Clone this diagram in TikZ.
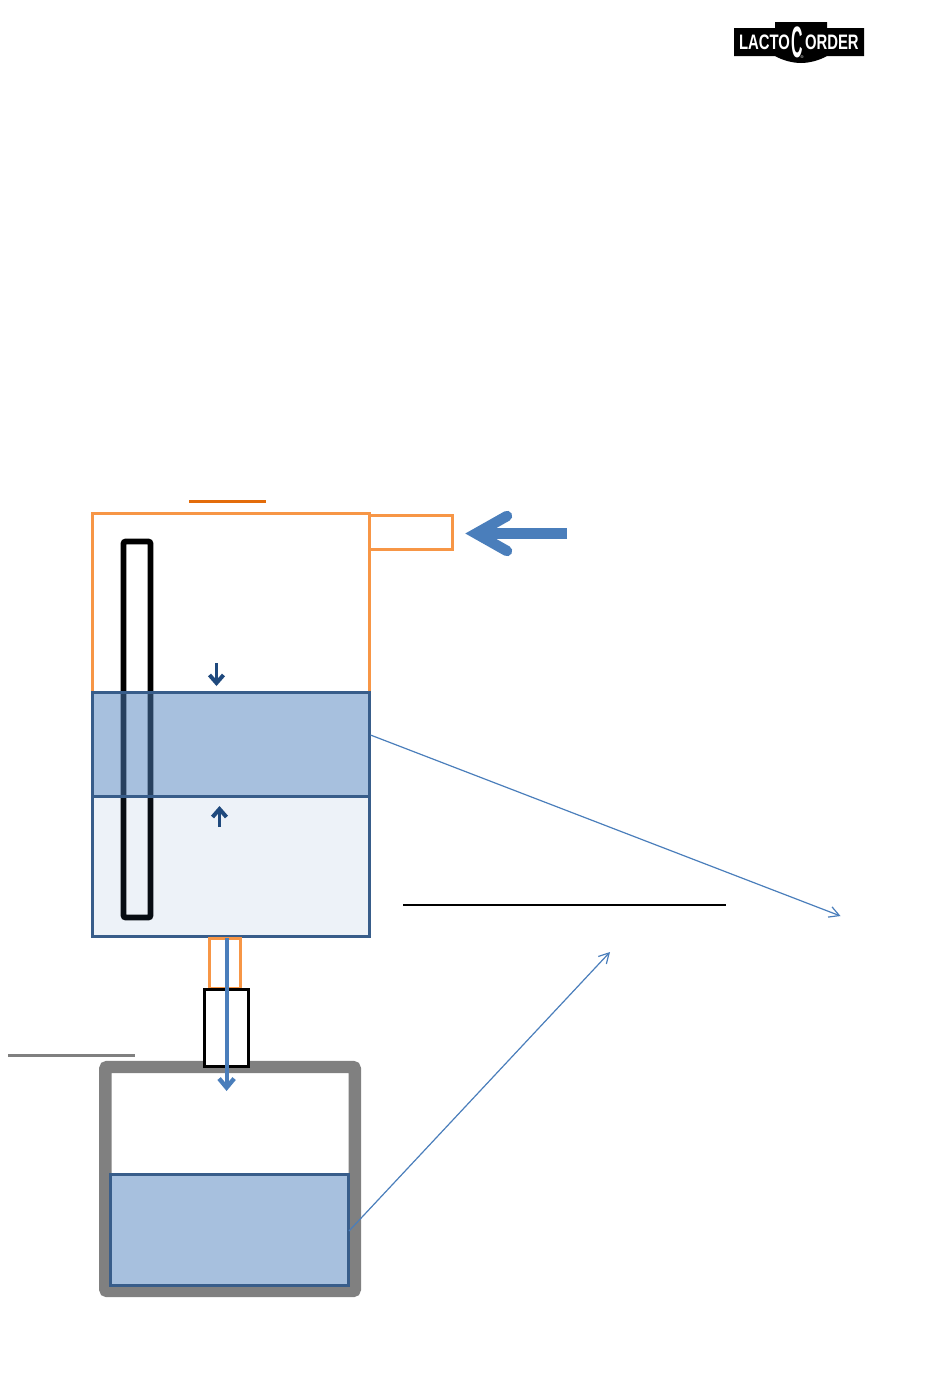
\documentclass[tikz,border=0pt]{standalone}
\usepackage{fontspec}
\setmainfont{Liberation Sans}
\usetikzlibrary{arrows.meta}
\def\U{0.75pt}
\definecolor{orangeline}{HTML}{F79646}
\definecolor{orangedark}{HTML}{E36C0A}
\definecolor{blueline}{HTML}{385D8A}
\definecolor{bluemain}{HTML}{4A7EBB}
\definecolor{bluefill}{HTML}{4F81BD}
\definecolor{navy}{HTML}{1F497D}
\definecolor{liquid}{HTML}{A7C0DE}
\definecolor{wall}{HTML}{808080}
\tikzset{
  x=0.75pt,y=-0.75pt,
  shapebox/.style={rectangle,inner sep=0pt,outer sep=0pt,anchor=north west},
  orangebox/.style={shapebox,draw=orangeline,line width=3*\U},
  liquidbox/.style={shapebox,draw=blueline,line width=3.2*\U,fill=bluefill},
  tube/.style={shapebox,draw=black,line width=5.6*\U,rounded corners=1.5pt},
  plainrule/.style={line width=2.8*\U},
  leader/.style={draw=bluemain,line width=1.2*\U,-{Straight Barb[length=10*\U,width=11*\U]}},
  levelarrow/.style={draw=navy,line width=3*\U,-{Straight Barb[length=8*\U,width=14*\U,line width=4*\U]}},
  logotext/.style={inner sep=0pt,outer sep=0pt,text=white,font=\bfseries\fontsize{15.7pt}{16pt}\selectfont,xscale=0.71},
}
\begin{document}
\begin{tikzpicture}
\useasboundingbox (0,0) rectangle (950,1379);
% logo
\fill[black] (734,28) -- (775,28) -- (775,22) -- (827,22) -- (827,28) -- (864,28) -- (864,56) -- (827,56)
  .. controls (820,60) and (810,63) .. (801,63) .. controls (792,63) and (782,60) .. (775,56) -- (734,56) -- cycle;
\node[logotext,anchor=east] (logoa) at (790,42) {LACTO};
\node[inner sep=0pt,outer sep=0pt,text=white,font=\bfseries\fontsize{33pt}{34pt}\selectfont,xscale=0.36] (logob) at (797.5,42) {C};
\node[logotext,anchor=west] (logoc) at (805,42) {ORDER};
\node[inner sep=0pt,text=white,font=\fontsize{3pt}{3pt}\selectfont] (logod) at (802,57) {®};
% rules
\coordinate (ra) at (189,501.5); \coordinate (rb) at (266,501.5);
\draw[plainrule,draw=orangedark,line width=3*\U] (ra) -- (rb);
\coordinate (rc) at (403,905); \coordinate (rd) at (726,905);
\draw[plainrule,black] (rc) -- (rd);
\coordinate (re) at (8,1055); \coordinate (rf) at (135,1055);
\draw[plainrule,draw=wall,line width=3*\U] (re) -- (rf);
% upper vessel
\node[orangebox,minimum width=277*\U,minimum height=423*\U] (vessel) at (92.5,513.5) {};
\node[orangebox,minimum width=82.5*\U,minimum height=34*\U] (inlet) at (369.5,515.5) {};
\node[tube,minimum width=27*\U,minimum height=376*\U] (probe) at (123.5,541.5) {};
\node[liquidbox,fill opacity=0.5,minimum width=277*\U,minimum height=104*\U] (milk) at (92.5,692.5) {};
\node[liquidbox,fill opacity=0.1,minimum width=277*\U,minimum height=140*\U] (base) at (92.5,796.5) {};
% inlet arrow
\coordinate (ia) at (567,533.5); \coordinate (ib) at (482,533.5);
\draw[draw=bluemain,line width=10.5*\U] (ia) -- (ib);
\draw[draw=bluemain,line width=10.5*\U,line cap=round,miter limit=10] (507,516) -- (476,533.5) -- (507,551);
% level arrows
\coordinate (la) at (216.5,663); \coordinate (lb) at (216.5,686);
\draw[levelarrow] (la) -- (lb);
\coordinate (lc) at (219.5,827); \coordinate (ld) at (219.5,806);
\draw[levelarrow] (lc) -- (ld);
% outlet
\node[orangebox,minimum width=31*\U,minimum height=50*\U] (pipe) at (209.5,938) {};
% receiver
\node[shapebox,draw=wall,line width=12.4*\U,rounded corners=1.5pt,minimum width=249.5*\U,minimum height=224*\U] (jar) at (105.3,1067) {};
\node[shapebox,draw=black,fill=white,line width=3*\U,minimum width=44.5*\U,minimum height=77*\U] (valve) at (204.3,989.3) {};
\node[shapebox,draw=blueline,fill=liquid,line width=3*\U,minimum width=238.5*\U,minimum height=111*\U] (sample) at (110.3,1174.3) {};
\coordinate (oa) at (226.6,938); \coordinate (ob) at (226.6,1091);
\draw[draw=bluemain,line width=3.8*\U,-{Straight Barb[length=9*\U,width=15*\U,line width=4.4*\U]}] (oa) -- (ob);
% leaders
\coordinate (sa) at (370.5,735); \coordinate (sb) at (840.5,916);
\draw[leader] (sa) -- (sb);
\coordinate (sc) at (349,1231); \coordinate (sd) at (610,952);
\draw[leader] (sc) -- (sd);
\end{tikzpicture}
\end{document}
